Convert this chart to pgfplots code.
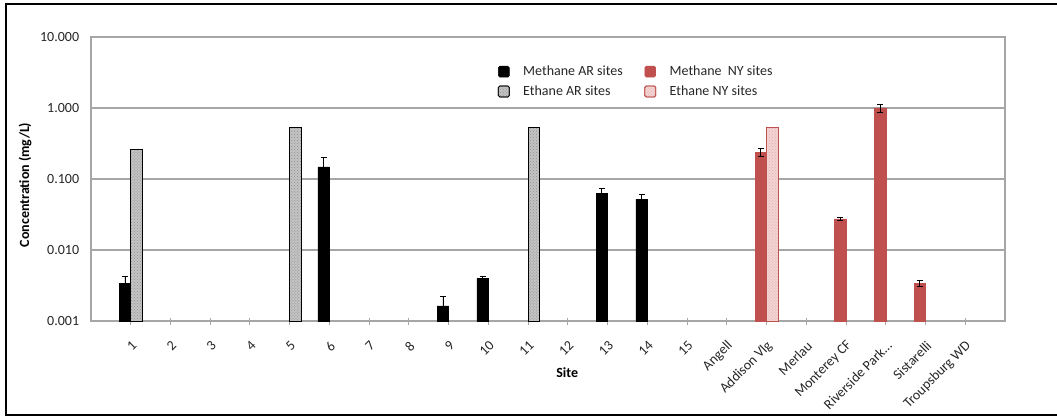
\documentclass[border=0pt]{standalone}
\usepackage{fontspec}
\setmainfont{Carlito}
\usepackage{pgfplots}
\pgfplotsset{compat=1.18}
\usetikzlibrary{patterns}

\definecolor{nyred}{HTML}{C0504D}
\definecolor{nypink}{HTML}{F2D4D3}
\definecolor{gridgray}{HTML}{A6A6A6}
\definecolor{ethgray}{HTML}{C4C4C4}
\definecolor{labelgray}{HTML}{262626}

\begin{document}
\fontsize{14bp}{16bp}\selectfont
\begin{tikzpicture}
\begin{axis}[
  scale only axis,
  width=914bp, height=284bp,
  ymode=log, ymin=0.001, ymax=10,
  log origin y=infty,
  xmin=-1, xmax=22,
  ybar=0pt, bar width=11.5bp,
  ytick={0.001,0.01,0.1,1,10},
  yticklabels={0.001,0.010,0.100,1.000,10.000},
  yminorticks=false,
  ytick style={draw=none},
  yticklabel style={xshift=-7bp, text=labelgray},
  xtick={0,...,21},
  xticklabels={1,2,3,4,5,6,7,8,9,10,11,12,13,14,15,Angell,Addison Vlg,Merlau,Monterey CF,Riverside Park\ldots,Sistarelli,Troupsburg WD},
  xtick pos=bottom,
  xtick align=center,
  major tick length=7bp,
  xtick style={gridgray, line width=1bp},
  xticklabel style={rotate=45, anchor=east, inner sep=1bp, xshift=-10bp, yshift=-16bp, text=labelgray},
  ymajorgrids,
  grid style={gridgray, line width=1.2bp},
  axis line style={gridgray, line width=1.2bp},
  xlabel={Site},
  xlabel style={font=\bfseries, at={(axis description cs:0.521,0)}, anchor=center, yshift=-52bp},
  ylabel={Concentration (mg/L)},
  ylabel style={font=\bfseries, at={(axis description cs:-0.0722,0.479)}, anchor=center},
  legend columns=2,
  legend cell align=left,
  legend style={at={(axis description cs:0.445,0.843)}, anchor=west, draw=none, fill=none,
    inner sep=0pt, row sep=5bp,
    nodes={inner sep=1.5bp, text=labelgray},
    /tikz/every odd column/.append style={column sep=12bp},
    /tikz/every even column/.append style={column sep=20bp}},
  legend image code/.code={\draw[#1, rounded corners=1.5bp] (0bp,-5.5bp) rectangle (11bp,5.5bp);},
]
\coordinate (O) at (rel axis cs:0,0);

% Methane, Arkansas sites (upper error bars only)
\addplot[fill=black, draw=black, bar shift=-5.75bp,
  error bars/.cd, y dir=plus, y explicit,
  error bar style={black, line width=0.8bp},
  error mark options={black, line width=0.8bp, mark size=3bp, rotate=90}]
  coordinates {
    (0,0.0034) +- (0,0.0008)
    (5,0.148)  +- (0,0.055)
    (8,0.00163) +- (0,0.0006)
    (9,0.0040) +- (0,0.0002)
    (12,0.0635) +- (0,0.011)
    (13,0.052) +- (0,0.009)
  };
\addlegendentry{Methane AR sites}

% Methane, New York sites
\addplot[fill=nyred, draw=nyred, bar shift=-5.75bp,
  error bars/.cd, y dir=both, y explicit,
  error bar style={black, line width=0.8bp},
  error mark options={black, line width=0.8bp, mark size=3bp, rotate=90}]
  coordinates {
    (16,0.24)   +- (0,0.03)
    (18,0.0275) +- (0,0.001)
    (19,1.0)    +- (0,0.12)
    (20,0.0034) +- (0,0.0003)
  };
\addlegendentry{Methane\ \ NY sites}

% Ethane, Arkansas sites
\addplot[fill=ethgray, draw=black, line width=0.8bp, bar shift=5.75bp,
  postaction={pattern=crosshatch dots, pattern color=black!45}]
  coordinates {(0,0.26) (4,0.53) (10,0.53)};
\addlegendentry{Ethane AR sites}

% Ethane, New York sites
\addplot[fill=nypink, draw=nyred, line width=0.8bp, bar shift=5.75bp,
  postaction={pattern=crosshatch dots, pattern color=nyred!45}]
  coordinates {(16,0.53)};
\addlegendentry{Ethane NY sites}
\end{axis}

\pgfresetboundingbox
\path[use as bounding box] ([shift={(-91bp,-96bp)}]O) rectangle ([shift={(966bp,321bp)}]O);
\draw[black, line width=2.2bp] ([shift={(-85bp,-94bp)}]O) rectangle ([shift={(980bp,317bp)}]O);
\end{tikzpicture}
\end{document}
